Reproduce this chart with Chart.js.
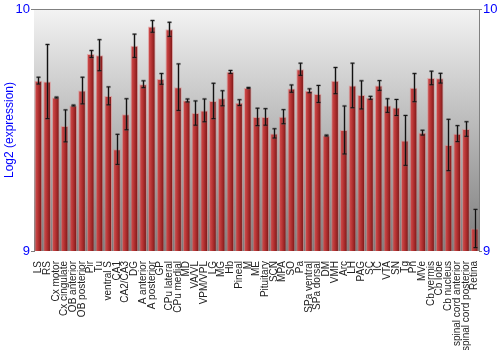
<!DOCTYPE html>
<html>
<head>
<meta charset="utf-8">
<script src="https://cdn.jsdelivr.net/npm/chart.js@4"></script>
<style>
  body { margin: 0; background: #fff; }
</style>
</head>
<body>
<canvas id="chart" width="500" height="350"></canvas>
<script>
const regions = ['LS', 'RS', 'Cx motor', 'Cx cingulate', 'OB anterior', 'OB posterior', 'Pir', 'Tu',
  'ventral S', 'CA1', 'CA2/CA3', 'DG', 'A anterior', 'A posterior', 'GP', 'CPu lateral', 'CPu medial',
  'MD', 'VA/VL', 'VPM/VPL', 'LG', 'MG', 'Hb', 'Pineal', 'M', 'ME', 'Pituitary', 'SCN', 'MPA', 'SO',
  'Pa', 'SPa ventral', 'SPa dorsal', 'DM', 'VMH', 'Arc', 'LH', 'PAG', 'SC', 'IC', 'VTA', 'SN', 'Tg',
  'Pn', 'MVe', 'Cb vermis', 'Cb lobe', 'Cb nucleus', 'spinal cord anterior', 'spinal cord posterior', 'Retina']

const expression = [9.704, 9.700, 9.634, 9.517, 9.601, 9.663, 9.814, 9.809,
  9.641, 9.420, 9.565, 9.848, 9.689, 9.928, 9.711, 9.916, 9.677,
  9.622, 9.570, 9.581, 9.620, 9.631, 9.740, 9.613, 9.674, 9.554, 9.554, 9.486, 9.555, 9.671,
  9.751, 9.662, 9.649, 9.477, 9.704, 9.500, 9.684, 9.645, 9.633, 9.684, 9.601, 9.593, 9.457,
  9.675, 9.489, 9.715, 9.714, 9.438, 9.485, 9.504, 9.093]

const errors = [0.014, 0.153, 0.002, 0.066, 0.002, 0.055, 0.014, 0.064,
  0.037, 0.062, 0.064, 0.048, 0.014, 0.024, 0.022, 0.029, 0.096,
  0.006, 0.050, 0.047, 0.073, 0.031, 0.006, 0.012, 0.002, 0.036, 0.034, 0.019, 0.029, 0.015,
  0.025, 0.008, 0.035, 0.002, 0.054, 0.099, 0.092, 0.058, 0.006, 0.020, 0.028, 0.033, 0.103,
  0.058, 0.010, 0.028, 0.020, 0.106, 0.033, 0.030, 0.079]

const yTicks = [9, 10]

const font = "'Liberation Sans', Arial, sans-serif"
const barPct = 0.88

// gray gradient behind the bars + top frame line
const plotBackground = {
  id: 'plotBackground',
  beforeDatasetsDraw(chart) {
    const { ctx, chartArea: a } = chart
    const g = ctx.createLinearGradient(0, a.top, 0, a.bottom)
    g.addColorStop(0, '#f3f3f3')
    g.addColorStop(1, '#7c7c7c')
    ctx.save()
    ctx.fillStyle = g
    ctx.fillRect(a.left, a.top, a.right - a.left, a.bottom - a.top)
    ctx.strokeStyle = '#808080'
    ctx.lineWidth = 1
    ctx.beginPath()
    ctx.moveTo(a.left, Math.round(a.top) + 0.5)
    ctx.lineTo(a.right, Math.round(a.top) + 0.5)
    ctx.stroke()
    ctx.restore()
  }
}

const errorBars = {
  id: 'errorBars',
  afterDatasetsDraw(chart) {
    const { ctx, scales: { x, y } } = chart
    ctx.save()
    expression.forEach((v, i) => {
      const cx = Math.round(x.getPixelForValue(i)) + 0.5
      const top = y.getPixelForValue(v + errors[i])
      const bottom = y.getPixelForValue(v - errors[i])
      // soft halo first, then the black line
      ;[['rgba(90,90,90,0.45)', 2.5], ['#111', 1]].forEach(([color, width]) => {
        ctx.strokeStyle = color
        ctx.lineWidth = width
        ctx.beginPath()
        ctx.moveTo(cx, top)
        ctx.lineTo(cx, bottom)
        ctx.moveTo(cx - 2, top)
        ctx.lineTo(cx + 2, top)
        ctx.moveTo(cx - 2, bottom)
        ctx.lineTo(cx + 2, bottom)
        ctx.stroke()
      })
    })
    ctx.restore()
  }
}

function barFill(context){
  const chart = context.chart
  const x = chart.scales.x
  if(context.dataIndex === undefined || !x) return '#b83434'
  const cx = x.getPixelForValue(context.dataIndex)
  const w = x.width / regions.length * barPct
  if(!Number.isFinite(cx) || !Number.isFinite(w) || w <= 0) return '#b83434'
  const g = chart.ctx.createLinearGradient(cx - w / 2, 0, cx + w / 2, 0)
  g.addColorStop(0, '#d25454')
  g.addColorStop(0.35, '#bf3a3a')
  g.addColorStop(0.7, '#9a2424')
  g.addColorStop(1, '#681212')
  return g
}

const chart = new Chart(document.querySelector('#chart'), {
  type: 'bar',
  plugins: [plotBackground, errorBars],
  data: {
    labels: regions,
    datasets: [{
      label: 'Log2 (expression)',
      data: expression,
      backgroundColor: barFill,
      borderColor: 'rgba(225,130,130,0.55)',
      borderWidth: 1,
      borderSkipped: 'bottom',
      barPercentage: barPct,
      categoryPercentage: 1,
    }]
  },
  options: {
    responsive: false,
    animation: false,
    layout: {
      padding: { top: 9, left: 0, right: 0, bottom: 0 }
    },
    scales: {
      x: {
        afterFit: (s) => { s.height = 99 },
        border: { display: false },
        grid: { display: false },
        ticks: {
          autoSkip: false,
          minRotation: 90,
          maxRotation: 90,
          padding: 2,
          color: '#222',
          font: { family: font, size: 10 },
        }
      },
      y: {
        min: 9,
        max: 10,
        afterFit: (s) => { s.width = 34 },
        afterBuildTicks: (s) => { s.ticks = yTicks.map((v) => ({ value: v })) },
        border: { display: true, color: '#808080' },
        grid: { drawOnChartArea: false, color: '#808080', tickLength: 3 },
        ticks: {
          padding: 1,
          color: '#0000ff',
          font: { family: font, size: 13 },
        },
        title: {
          display: true,
          text: 'Log2 (expression)',
          color: '#0000ff',
          padding: { top: 2, bottom: 0 },
          font: { family: font, size: 12 },
        }
      },
      y2: {
        position: 'right',
        min: 9,
        max: 10,
        afterFit: (s) => { s.width = 21 },
        afterBuildTicks: (s) => { s.ticks = yTicks.map((v) => ({ value: v })) },
        border: { display: true, color: '#808080' },
        grid: { drawOnChartArea: false, color: '#808080', tickLength: 3 },
        ticks: {
          padding: 1,
          color: '#0000ff',
          font: { family: font, size: 13 },
        }
      }
    },
    plugins: {
      legend: { display: false },
      tooltip: { enabled: false },
    }
  }
})
</script>
</body>
</html>
